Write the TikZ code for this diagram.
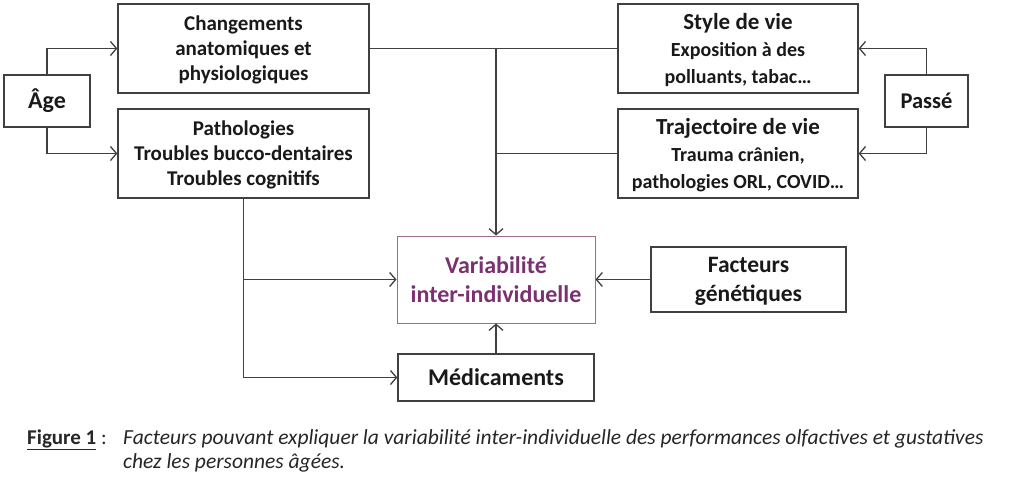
\documentclass[tikz,border=0pt]{standalone}
\usepackage{fontspec}
\setmainfont{Carlito}
\usetikzlibrary{arrows.meta}
\definecolor{linegray}{HTML}{404040}
\definecolor{varpurple}{HTML}{7B3070}
\definecolor{varframe}{HTML}{9C6A92}

\begin{document}
\begin{tikzpicture}[x=1pt,y=-1pt,
    box/.style={draw=linegray,line width=1.3pt,align=center,inner sep=0pt,text=black!90},
    link/.style={draw=linegray,line width=1.3pt},
    arr/.style={link,-{Straight Barb[length=6pt,width=14pt]}}]
        \useasboundingbox (0,0) rectangle (1024,490);
        % left column
        \node [box,minimum width=86,minimum height=52,font=\bfseries\fontsize{24}{28}\selectfont] (age) at (47,101) {Âge};
        \node [box,minimum width=251,minimum height=89,text depth=-5pt,font=\bfseries\fontsize{21}{25}\selectfont] (chang) at (243.5,48.5)
          {Changements\\anatomiques et\\physiologiques};
        \node [box,minimum width=251,minimum height=89,text depth=-5pt,font=\bfseries\fontsize{21}{25}\selectfont] (patho) at (243.5,153.5)
          {Pathologies\\Troubles bucco-dentaires\\Troubles cognitifs};
        % right column
        \node [box,minimum width=240,minimum height=89,text depth=-12pt,font=\bfseries\fontsize{20}{27}\selectfont] (style) at (738,48.5)
          {{\fontsize{23}{27}\selectfont Style de vie}\\Exposition à des\\polluants, tabac…};
        \node [box,minimum width=240,minimum height=89,text depth=-9pt,font=\bfseries\fontsize{20}{27}\selectfont] (traj) at (738,153.5)
          {{\fontsize{23}{27}\selectfont Trajectoire de vie}\\Trauma crânien,\\pathologies ORL, COVID…};
        \node [box,minimum width=83,minimum height=52,font=\bfseries\fontsize{22.5}{27}\selectfont] (passe) at (926.5,101) {Passé};
        % centre
        \node [box,draw=varframe,line width=1pt,text=varpurple,minimum width=198,minimum height=87,
          font=\bfseries\fontsize{24}{29}\selectfont] (vari) at (496,279.5) {Variabilité\\inter-individuelle};
        \node [box,minimum width=195,minimum height=65,text depth=-2pt,font=\bfseries\fontsize{23.5}{29}\selectfont] (gene) at (748.5,279.5)
          {Facteurs\\génétiques};
        \node [box,minimum width=196,minimum height=47,font=\bfseries\fontsize{24}{28}\selectfont] (medic) at (496,377.5)
          {Médicaments};
        % connectors
        \draw [arr] (age.north) |- (chang.west);
        \draw [arr] (age.south) |- (patho.west);
        \draw [arr] (passe.north) |- (style.east);
        \draw [arr] (passe.south) |- (traj.east);
        \draw [link] (chang.east) -- (style.west);
        \draw [link] (traj.west) -- (traj.west -| vari.north);
        \draw [arr] (chang.east -| vari.north) -- (vari.north);
        \draw [arr] (gene.west) -- (vari.east);
        \draw [arr] (medic.north) -- (vari.south);
        \draw [arr] (patho.south) |- (medic.west);
        \draw [arr] (patho.south |- vari.west) -- (vari.west);
        % caption
        \node [anchor=base west,inner sep=0pt,text=black!85,font=\fontsize{21}{25}\selectfont] (figlab) at (27,444)
          {{\bfseries\underline{Figure 1}} :};
        \node [anchor=base west,inner sep=0pt,text=black!85,font=\itshape\fontsize{21.5}{25}\selectfont] (figtxt) at (123,444)
          {Facteurs pouvant expliquer la variabilité inter-individuelle des performances olfactives et gustatives};
        \node [anchor=base west,inner sep=0pt,text=black!85,font=\itshape\fontsize{21.5}{25}\selectfont] (figtxt2) at (123,468)
          {chez les personnes âgées.};
\end{tikzpicture}
\end{document}
